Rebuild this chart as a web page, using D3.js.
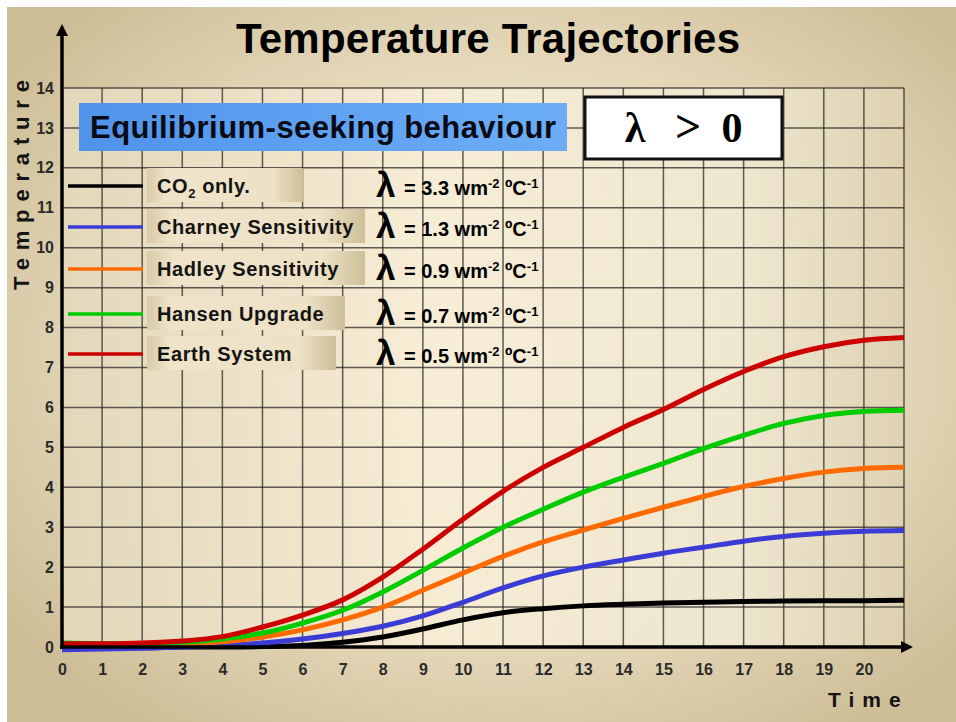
<!DOCTYPE html>
<html><head><meta charset="utf-8">
<script src="https://cdn.jsdelivr.net/npm/d3@7"></script>
<style>html,body{margin:0;padding:0;background:#fff;}svg{display:block;}</style>
</head><body>
<script>
// ---------- data ----------
const timeSteps = d3.range(0, 22);            // 0..21
const xTicks = d3.range(0, 21);               // 0..20 labels
const yTicks = d3.range(0, 15);               // 0..14
const seriesNames = ["CO₂ only.", "Charney Sensitivity", "Hadley Sensitivity", "Hansen Upgrade", "Earth System"];
const lambdaValues = ["3.3", "1.3", "0.9", "0.7", "0.5"];
const co2Only  = [0,-0.02,-0.02,0,0,0.01,0.04,0.12,0.25,0.45,0.68,0.86,0.96,1.03,1.07,1.1,1.12,1.14,1.15,1.16,1.16,1.17];
const charney  = [-0.07,-0.05,-0.03,0,0.04,0.1,0.2,0.34,0.52,0.78,1.12,1.48,1.78,2.0,2.18,2.35,2.5,2.65,2.77,2.85,2.9,2.92];
const hadley   = [0.05,0.03,0.05,0.08,0.13,0.25,0.43,0.68,1.0,1.42,1.85,2.27,2.63,2.93,3.22,3.5,3.77,4.02,4.22,4.38,4.47,4.5];
const hansen   = [0.1,0.08,0.08,0.12,0.2,0.35,0.6,0.92,1.38,1.92,2.48,3.0,3.45,3.88,4.25,4.6,4.97,5.3,5.6,5.8,5.9,5.93];
const earthSys = [0.08,0.08,0.1,0.15,0.26,0.5,0.8,1.18,1.75,2.45,3.2,3.9,4.5,5.0,5.5,5.95,6.45,6.9,7.27,7.52,7.68,7.75];
const seriesValues = [co2Only, charney, hadley, hansen, earthSys];

// ---------- styles / layout ----------
const colors = ["#000000", "#3b3bd6", "#ff6a00", "#00cc00", "#cc0000"];
const legendBoxW = [156, 218, 218, 198, 189];
const W = 956, H = 722;
const FONT = "'Liberation Sans', Arial, sans-serif";

const svg = d3.select("body").append("svg").attr("width", W).attr("height", H);
const defs = svg.append("defs");

const bg = defs.append("radialGradient").attr("id", "bg").attr("cx", "52%").attr("cy", "48%").attr("r", "65%");
bg.append("stop").attr("offset", "0%").attr("stop-color", "#f9eed6");
bg.append("stop").attr("offset", "55%").attr("stop-color", "#e9ddc0");
bg.append("stop").attr("offset", "100%").attr("stop-color", "#cdbd96");

const pg = defs.append("linearGradient").attr("id", "plotbg").attr("x1", "0").attr("x2", "1").attr("y1", "0").attr("y2", "0");
pg.append("stop").attr("offset", "0%").attr("stop-color", "#e4d9bc");
pg.append("stop").attr("offset", "45%").attr("stop-color", "#f8edd6");
pg.append("stop").attr("offset", "80%").attr("stop-color", "#f0e8d2");
pg.append("stop").attr("offset", "100%").attr("stop-color", "#ded2b2");

const blueG = defs.append("linearGradient").attr("id", "blueg").attr("x1", "0").attr("x2", "1");
blueG.append("stop").attr("offset", "0%").attr("stop-color", "#4f93ea");
blueG.append("stop").attr("offset", "50%").attr("stop-color", "#5fa2f2");
blueG.append("stop").attr("offset", "100%").attr("stop-color", "#6cadf6");

const legG = defs.append("linearGradient").attr("id", "legg").attr("x1", "0").attr("x2", "1");
legG.append("stop").attr("offset", "0%").attr("stop-color", "#d8caa6");
legG.append("stop").attr("offset", "12%").attr("stop-color", "#efe4ca");
legG.append("stop").attr("offset", "80%").attr("stop-color", "#ede2c6");
legG.append("stop").attr("offset", "100%").attr("stop-color", "#cdbf99");

// background
svg.append("rect").attr("x", 7).attr("y", 7).attr("width", W - 7).attr("height", H - 7).attr("fill", "url(#bg)");

const x = d3.scaleLinear().domain([0, 21]).range([62, 904]);
const y = d3.scaleLinear().domain([0, 14]).range([647, 88]);

// plot area
svg.append("rect").attr("x", x(0)).attr("y", y(14)).attr("width", x(21) - x(0)).attr("height", y(0) - y(14))
  .attr("fill", "url(#plotbg)").attr("opacity", 0.9);

// grid
const grid = svg.append("g").attr("stroke", "#2a2a2a").attr("stroke-opacity", 0.75).attr("stroke-width", 1.5);
grid.selectAll("line.h").data(yTicks).join("line")
  .attr("x1", x(0)).attr("x2", x(21)).attr("y1", d => y(d)).attr("y2", d => y(d));
grid.selectAll("line.v").data(timeSteps).join("line")
  .attr("y1", y(0)).attr("y2", y(14)).attr("x1", d => x(d)).attr("x2", d => x(d));

// title
svg.append("text").attr("x", 488).attr("y", 53).attr("text-anchor", "middle")
  .attr("font-family", FONT).attr("font-weight", "bold").attr("font-size", 42).attr("fill", "#000")
  .attr("textLength", 504).attr("lengthAdjust", "spacing")
  .text("Temperature Trajectories");

// blue box
svg.append("rect").attr("x", 79).attr("y", 103).attr("width", 488).attr("height", 48).attr("fill", "url(#blueg)");
svg.append("text").attr("x", 90).attr("y", 138).attr("font-family", FONT).attr("font-weight", "bold")
  .attr("font-size", 31).attr("fill", "#0a0a14").attr("textLength", 466).attr("lengthAdjust", "spacing")
  .text("Equilibrium-seeking behaviour");

// lambda > 0 box
svg.append("rect").attr("x", 585).attr("y", 97).attr("width", 197).attr("height", 62)
  .attr("fill", "#fff").attr("stroke", "#111").attr("stroke-width", 3);
const serif = "'Liberation Serif', 'DejaVu Serif', serif";
[["λ", 635, 42], [">", 688, 46], ["0", 732, 42]].forEach(([t, cx, fs]) => {
  svg.append("text").attr("x", cx).attr("y", 142).attr("text-anchor", "middle")
    .attr("font-family", serif).attr("font-weight", "bold").attr("font-size", fs).attr("fill", "#000").text(t);
});

// axes (D3 axes for tick labels)
const xAxis = d3.axisBottom(x).tickValues(xTicks).tickSize(0).tickPadding(17).tickFormat(d3.format("d"));
const gx = svg.append("g").attr("transform", `translate(0,${y(0)})`).call(xAxis);
gx.select(".domain").remove();
gx.selectAll("text").attr("font-family", FONT).attr("font-weight", "bold").attr("font-size", 16).attr("fill", "#2b2b2b");

const yAxis = d3.axisLeft(y).tickValues(yTicks).tickSize(0).tickPadding(8).tickFormat(d3.format("d"));
const gy = svg.append("g").attr("transform", `translate(${x(0)},0)`).call(yAxis);
gy.select(".domain").remove();
gy.selectAll("text").attr("font-family", FONT).attr("font-weight", "bold").attr("font-size", 16).attr("fill", "#2b2b2b");

// curves
const line = d3.line().x((d, i) => x(timeSteps[i])).y(d => y(d)).curve(d3.curveCatmullRom.alpha(0.5));
svg.append("g").selectAll("path").data(seriesValues).join("path")
  .attr("d", line).attr("fill", "none").attr("stroke", (d, i) => colors[i])
  .attr("stroke-width", 5).attr("stroke-linecap", "butt");

// axis lines with arrows
svg.append("line").attr("x1", x(0)).attr("x2", x(0)).attr("y1", y(0) + 2).attr("y2", 34)
  .attr("stroke", "#000").attr("stroke-width", 3.5);
svg.append("path").attr("d", `M${x(0)},24 L${x(0) - 6},36 L${x(0) + 6},36 Z`).attr("fill", "#000");
svg.append("line").attr("x1", x(0) - 2).attr("x2", 902).attr("y1", y(0)).attr("y2", y(0))
  .attr("stroke", "#000").attr("stroke-width", 3.5);
svg.append("path").attr("d", `M913,${y(0)} L901,${y(0) - 6} L901,${y(0) + 6} Z`).attr("fill", "#000");

// legend
const legY = [186, 227, 269, 314, 354];
const legend = svg.append("g");
seriesNames.forEach((name, i) => {
  const cy = legY[i];
  legend.append("line").attr("x1", 68).attr("x2", 143).attr("y1", cy).attr("y2", cy)
    .attr("stroke", colors[i]).attr("stroke-width", 3.5);
  legend.append("rect").attr("x", 147).attr("y", cy - 18).attr("width", legendBoxW[i]).attr("height", 34)
    .attr("fill", "url(#legg)");
  const t = legend.append("text").attr("x", 157).attr("y", cy + 7).attr("font-family", FONT)
    .attr("font-weight", "bold").attr("font-size", 20).attr("letter-spacing", 0.6).attr("fill", "#141414");
  if (i === 0) {
    t.append("tspan").text("CO");
    t.append("tspan").attr("font-size", 13).attr("dy", 5).text("2");
    t.append("tspan").attr("dy", -5).text(" only.");
  } else {
    t.text(name);
  }
  // lambda labels
  legend.append("text").attr("x", 376).attr("y", cy + 11).attr("font-family", FONT)
    .attr("font-weight", "bold").attr("font-size", 35).attr("fill", "#000").text("λ");
  const lt = legend.append("text").attr("x", 404).attr("y", cy + 9).attr("font-family", FONT)
    .attr("font-weight", "bold").attr("font-size", 20).attr("fill", "#000");
  lt.append("tspan").text("= " + lambdaValues[i] + " wm");
  lt.append("tspan").attr("font-size", 13).attr("dy", -7).text("-2");
  lt.append("tspan").attr("dy", 7).text("  ºC");
  lt.append("tspan").attr("font-size", 13).attr("dy", -7).text("-1");
});

// axis titles
svg.append("text").attr("transform", "translate(29,185) rotate(-90)").attr("text-anchor", "middle")
  .attr("font-family", FONT).attr("font-weight", "bold").attr("font-size", 22)
  .attr("fill", "#141414").attr("textLength", 210).attr("lengthAdjust", "spacing").text("Temperature");
svg.append("text").attr("x", 828).attr("y", 707).attr("font-family", FONT).attr("font-weight", "bold")
  .attr("font-size", 21).attr("letter-spacing", 8).attr("fill", "#141414").text("Time");
</script>
</body></html>
